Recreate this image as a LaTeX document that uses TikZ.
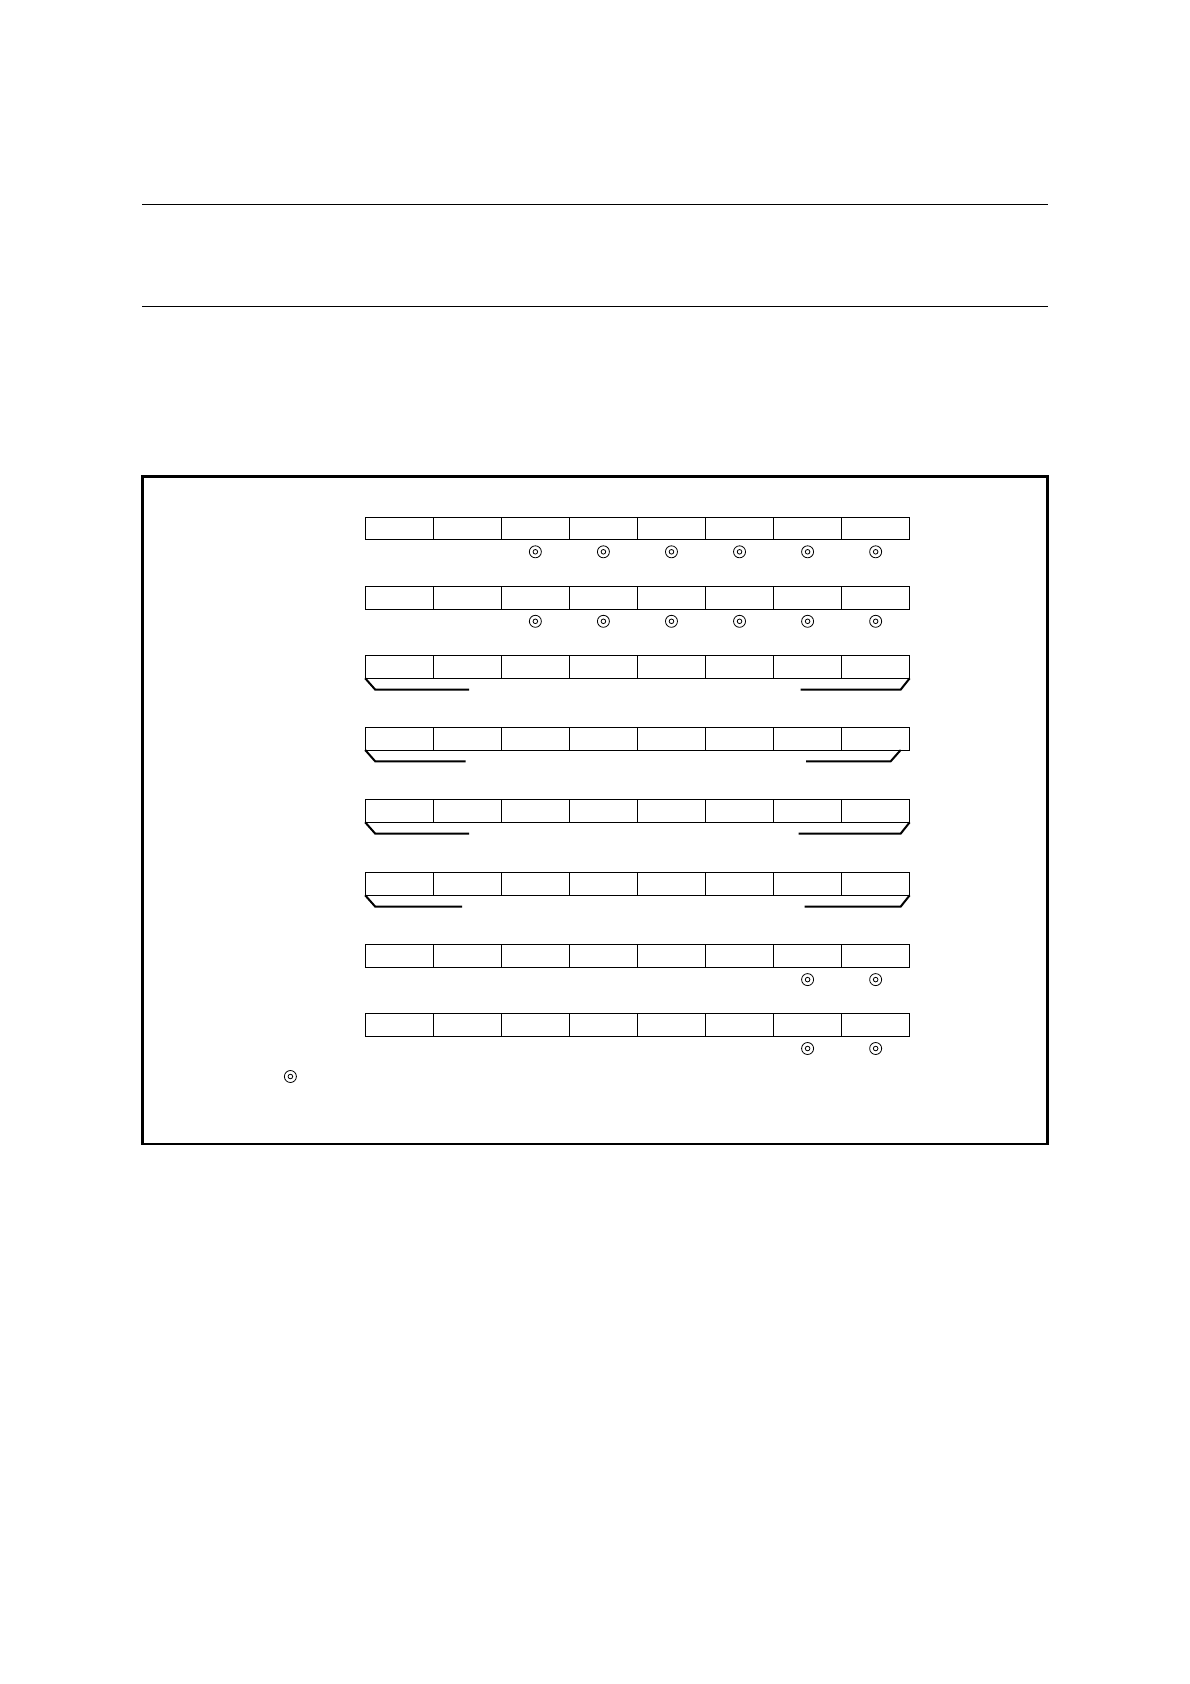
\documentclass[tikz,border=0pt]{standalone}
\begin{document}
\begin{tikzpicture}[x=1pt,y=-1pt,
  cell/.style={draw,line width=0.9pt,minimum width=68.06pt,minimum height=22.8pt,inner sep=0pt,outer sep=0pt,anchor=north west},
  ringmark/.style={circle,draw,line width=0.8pt,minimum size=12pt,inner sep=0pt,
    path picture={\draw[line width=0.8pt] (path picture bounding box.center) circle[radius=2.3pt];}},
  bracketline/.style={line width=2pt},
  frameline/.style={line width=2.2pt},
  ruleline/.style={line width=1.3pt}]
\useasboundingbox (0,0) rectangle (1190,1684);
% horizontal rules
\draw[ruleline] (142,204.3) -- (1048,204.3);
\draw[ruleline] (142,306.3) -- (1048,306.3);
% frame
\draw[frameline] (142.5,476.5) rectangle (1047.5,1144);
% rows of cells
\foreach \r/\y in {1/517,2/586.5,3/655.5,4/727.2,5/799.5,6/872.5,7/944.3,8/1013.2}{
  \foreach \c in {1,...,8}{
    \node[cell] (r\r c\c) at ({365.2+(\c-1)*68.06},\y) {};
  }
}
% ring marks
\foreach \r in {1,2}{
  \foreach \c in {3,...,8}{
    \node[ringmark,yshift=-12pt] (m\r c\c) at (r\r c\c.south) {};
  }
}
\foreach \r in {7,8}{
  \foreach \c in {7,8}{
    \node[ringmark,yshift=-12.5pt] (m\r c\c) at (r\r c\c.south) {};
  }
}
\node[ringmark] (legendmark) at (290.4,1076.5) {};
% brackets
\draw[bracketline] (r3c1.south west) -- ++(10,11.3) -- ++(94,0);
\draw[bracketline] (r3c8.south east) -- ++(-9,11.3) -- ++(-100,0);
\draw[bracketline] (r4c1.south west) -- ++(10,11.3) -- ++(90.5,0);
\draw[bracketline] ([xshift=-9pt]r4c8.south east) -- ++(-10,11.3) -- ++(-84.5,0);
\draw[bracketline] (r5c1.south west) -- ++(10,11.3) -- ++(94,0);
\draw[bracketline] (r5c8.south east) -- ++(-9,11.3) -- ++(-102,0);
\draw[bracketline] (r6c1.south west) -- ++(10,11.3) -- ++(87,0);
\draw[bracketline] (r6c8.south east) -- ++(-9,11.3) -- ++(-96,0);
\end{tikzpicture}
\end{document}
